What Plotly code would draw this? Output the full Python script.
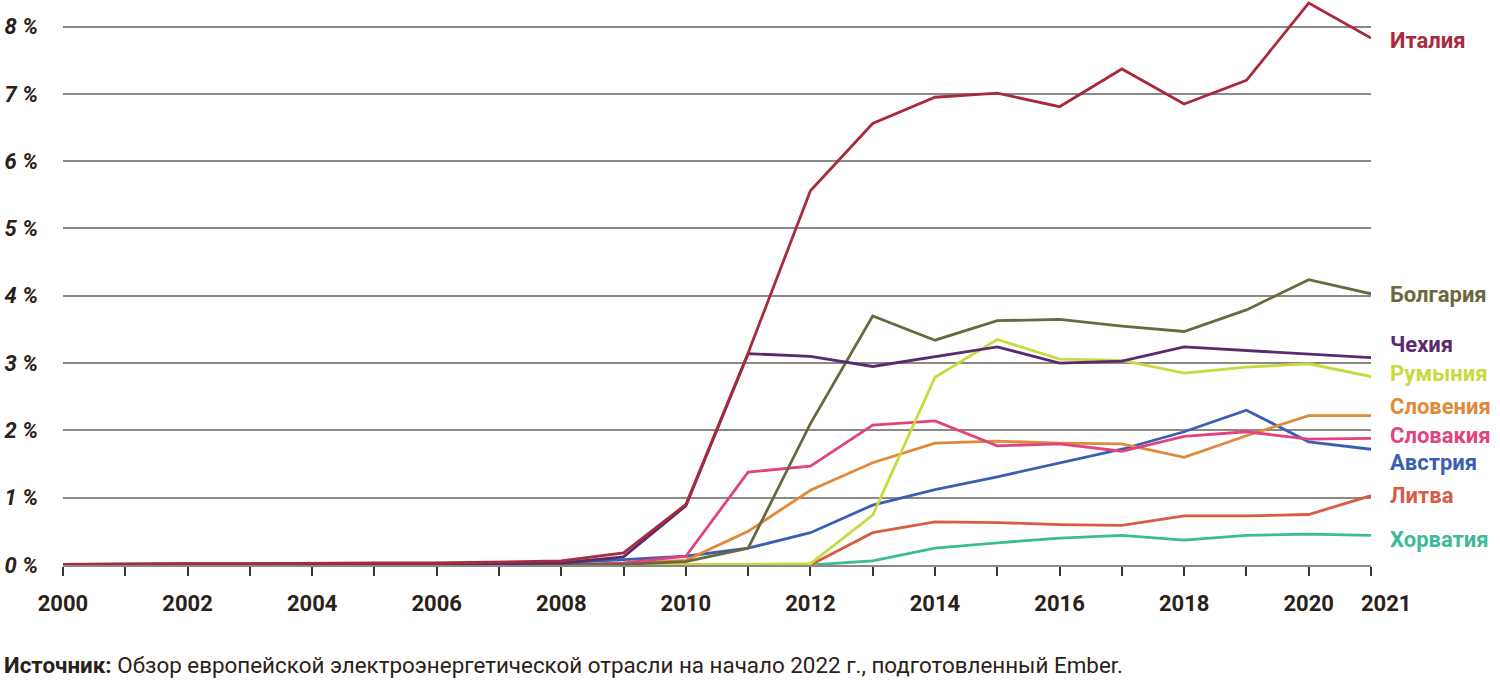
import plotly.graph_objects as go

years = list(range(2000, 2022))

italy =     [0.01, 0.02, 0.02, 0.02, 0.03, 0.03, 0.03, 0.04, 0.06, 0.18, 0.90, 3.15, 5.56, 6.56, 6.95, 7.01, 6.81, 7.37, 6.85, 7.20, 8.35, 7.83]
bulgaria =  [0, 0, 0, 0, 0, 0, 0, 0, 0, 0.01, 0.05, 0.25, 2.10, 3.70, 3.34, 3.63, 3.65, 3.55, 3.47, 3.79, 4.24, 4.03]
czechia =   [0, 0, 0, 0, 0.01, 0.01, 0.01, 0.02, 0.03, 0.12, 0.88, 3.14, 3.10, 2.95, 3.09, 3.24, 3.00, 3.03, 3.24, 3.19, 3.13, 3.08]
romania =   [0, 0, 0, 0, 0, 0, 0, 0, 0, 0, 0, 0.01, 0.02, 0.74, 2.79, 3.35, 3.06, 3.04, 2.85, 2.94, 2.99, 2.80]
slovenia =  [0, 0, 0, 0, 0, 0, 0, 0, 0, 0.02, 0.07, 0.50, 1.11, 1.52, 1.81, 1.84, 1.81, 1.80, 1.60, 1.92, 2.22, 2.22]
slovakia =  [0, 0, 0, 0, 0, 0, 0, 0, 0, 0.03, 0.13, 1.38, 1.47, 2.08, 2.14, 1.77, 1.80, 1.69, 1.91, 1.98, 1.87, 1.88]
austria =   [0.01, 0.02, 0.02, 0.02, 0.02, 0.02, 0.02, 0.02, 0.03, 0.08, 0.13, 0.25, 0.48, 0.89, 1.12, 1.31, 1.52, 1.72, 1.98, 2.30, 1.83, 1.72]
lithuania = [0, 0, 0, 0, 0, 0, 0, 0, 0, 0, 0, 0, 0, 0.48, 0.64, 0.63, 0.60, 0.59, 0.73, 0.73, 0.75, 1.03]
croatia =   [0, 0, 0, 0, 0, 0, 0, 0, 0, 0, 0, 0, 0, 0.06, 0.25, 0.33, 0.40, 0.44, 0.37, 0.44, 0.46, 0.44]

names = ["Италия", "Болгария", "Чехия", "Румыния", "Словения", "Словакия", "Австрия", "Литва", "Хорватия"]
series = [italy, bulgaria, czechia, romania, slovenia, slovakia, austria, lithuania, croatia]
colors = ["#a82a3c", "#6b6840", "#5a2a6c", "#c9da3e", "#e0893a", "#e2437e", "#3a5fb2", "#d95c44", "#3dba9a"]
label_y = [7.80, 4.02, 3.28, 2.84, 2.35, 1.92, 1.52, 1.04, 0.38]

y_tick_vals = list(range(0, 9))
y_tick_text = [f"{v} %" for v in y_tick_vals]
x_tick_vals = years
x_tick_text = [str(y) if (y % 2 == 0 and y != 2021) else "" for y in years]

FONT = "Roboto"
TEXT = "#2b2118"

fig = go.Figure()
draw_order = [8, 7, 6, 4, 5, 3, 1, 2, 0]
for i in draw_order:
    fig.add_trace(go.Scatter(
        x=years, y=series[i], mode="lines", name=names[i],
        line=dict(color=colors[i], width=2.8), cliponaxis=False,
        showlegend=False, hoverinfo="skip"))

for n, c, ly in zip(names, colors, label_y):
    fig.add_annotation(x=1, xref="paper", y=ly, yref="y", text=n, showarrow=False,
                       xanchor="left", xshift=17, yanchor="middle",
                       font=dict(family=FONT, size=22, color=c, weight="bold"))

fig.add_annotation(x=2021, xref="x", y=0, yref="y", text="2021", showarrow=False,
                   xanchor="center", yanchor="middle", xshift=15, yshift=-38,
                   font=dict(family=FONT, size=22, color=TEXT, weight="bold"))

fig.add_annotation(x=0, xref="paper", xanchor="left", xshift=-61, y=0, yref="paper",
                   yanchor="middle", yshift=-100, showarrow=False,
                   text="<b>Источник:</b> Обзор европейской электроэнергетической отрасли на начало 2022 г., подготовленный Ember.",
                   font=dict(family=FONT, size=22.4, color=TEXT))

fig.update_layout(
    width=1500, height=680,
    margin=dict(l=63, r=129, t=1, b=115),
    plot_bgcolor="white", paper_bgcolor="white",
    font=dict(family=FONT, color=TEXT),
    xaxis=dict(range=[2000, 2021], tickvals=x_tick_vals, ticktext=x_tick_text,
               ticks="outside", ticklen=9, tickwidth=1.5, tickcolor="#3a3330",
               showgrid=False, zeroline=False, showline=True, linecolor="#8c8985", linewidth=1.5,
               ticklabelstandoff=9,
               tickfont=dict(family=FONT, size=22, color=TEXT, weight="bold")),
    yaxis=dict(range=[0, 8.38], tickvals=y_tick_vals, ticktext=y_tick_text,
               showgrid=True, gridcolor="#8c8985", gridwidth=1.5,
               zeroline=False, showline=False, ticks="", ticklabelstandoff=24,
               tickfont=dict(family=FONT, size=22, color=TEXT, weight="bold", style="italic")),
)

fig.write_html("out.html", config={"displayModeBar": False},
               post_script="document.body.style.margin='0';document.body.style.padding='0';")
